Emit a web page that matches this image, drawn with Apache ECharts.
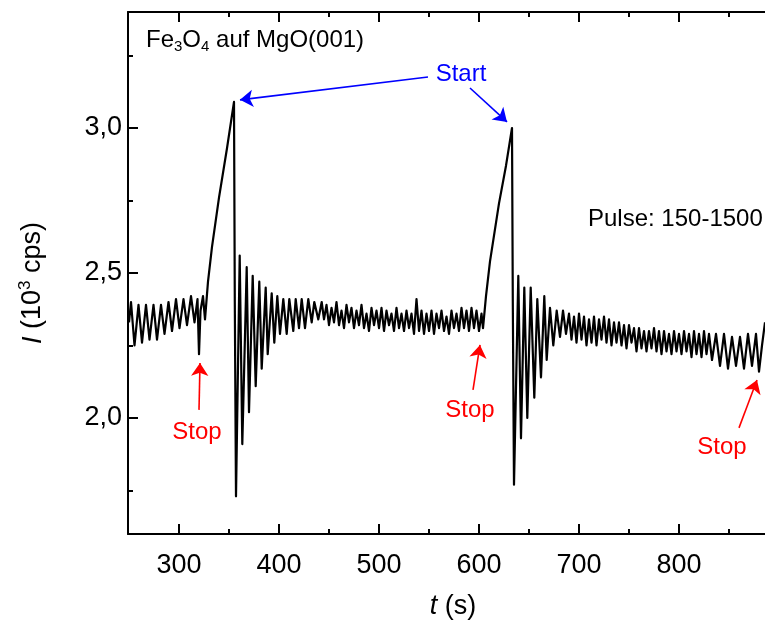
<!DOCTYPE html>
<html><head><meta charset="utf-8">
<script src="https://cdn.jsdelivr.net/npm/echarts@6/dist/echarts.min.js"></script>
<style>html,body{margin:0;padding:0;background:#fff}#c{width:765px;height:623px}</style>
</head><body><div id="c"></div>
<script>
// time (s)
const time = [
250,252,255.5,259.5,263,267,270.5,274.5,278,282,285.5,289.5,293,297,300.5,304.5,308,312,315.5,318.5,320,321.5,324,326,
329,333,340,348,355,355.8,357,
360.7,363.3,367.7,370,373.7,376.7,380.3,382.7,386.7,388.7,392.7,395.3,398.3,401,404.3,407.7,410.3,414.3,416.7,420,422.7,426,429.3,432.7,435.3,439.3,442.7,
445,447.5,450,452.5,455,457.5,460,462.5,465,467.5,470,472.5,475,477.5,480,482.5,485,487.5,490,492.5,495,497.5,500,502.5,505,507.5,510,512.5,515,517.5,520,522.5,525,527.5,530,532.5,535,537.5,540,542.5,545,547.5,550,552.5,555,557.5,560,562.5,565,567.5,570,572.5,575,577.5,580,582.5,585,587.5,590,592.5,595,597.5,600,602.5,604,
607,611,620,627,633,633.8,635,
639.3,642,645.3,648.3,651.7,655.3,658.3,662,665.3,667.7,671,674.3,677.7,681,684,687,
690,692.5,695,697.5,700,702.5,705,707.5,710,712.5,715,717.5,720,722.5,725,727.5,730,732.5,735,737.5,740,742.5,745,747.5,750,752.5,755,757.5,760,762.5,765,767.5,770,772.5,775,777.5,780,782.5,785,787.5,790,792.5,795,797.5,800,802.5,805,807.5,810,812.5,815,817.5,820,822.5,825,827.5,830,833,837,841,845,849,853,857,861,865,869,873,877,880,883,886
];
// intensity I (10^3 cps)
const intensity = [
2.33,2.40,2.25,2.39,2.26,2.39,2.27,2.39,2.27,2.39,2.29,2.40,2.30,2.41,2.31,2.41,2.32,2.42,2.33,2.41,2.22,2.37,2.42,2.34,
2.47,2.59,2.76,2.93,3.09,2.40,1.73,
2.56,1.91,2.52,2.02,2.49,2.11,2.47,2.17,2.45,2.22,2.43,2.26,2.42,2.29,2.41,2.29,2.41,2.30,2.41,2.31,2.41,2.31,2.41,2.33,2.40,2.34,2.40,
2.34,2.39,2.32,2.38,2.33,2.40,2.32,2.37,2.31,2.39,2.33,2.38,2.31,2.37,2.32,2.39,2.31,2.36,2.30,2.38,2.32,2.37,2.31,2.38,2.30,2.37,2.32,2.36,2.30,2.38,2.31,2.36,2.30,2.37,2.31,2.36,2.29,2.41,2.30,2.37,2.29,2.36,2.30,2.37,2.29,2.36,2.31,2.37,2.30,2.35,2.29,2.37,2.31,2.36,2.30,2.38,2.31,2.37,2.30,2.38,2.31,2.37,2.30,2.36,2.31,
2.42,2.54,2.74,2.87,3.00,2.40,1.77,
2.49,1.93,2.45,2.00,2.45,2.07,2.41,2.14,2.42,2.20,2.38,2.25,2.37,2.28,2.37,2.29,
2.36,2.27,2.35,2.26,2.36,2.27,2.35,2.25,2.34,2.26,2.35,2.25,2.34,2.27,2.35,2.26,2.34,2.25,2.33,2.26,2.33,2.25,2.32,2.24,2.32,2.26,2.31,2.23,2.31,2.24,2.30,2.23,2.30,2.24,2.31,2.23,2.30,2.22,2.30,2.23,2.29,2.22,2.30,2.23,2.29,2.22,2.30,2.23,2.29,2.21,2.30,2.22,2.29,2.21,2.30,2.22,2.29,2.20,2.29,2.18,2.29,2.17,2.28,2.18,2.28,2.17,2.29,2.18,2.29,2.16,2.25,2.33
];
const xTickValues = [300,400,500,600,700,800];
const xMinorValues = [350,450,550,650,750,850];
const yTickValues = [2.0,2.5,3.0];
const yMinorValues = [1.75,2.25,2.75,3.25];

// annotations in data coordinates
const arrowList = [
  {from:[549,3.176], to:[361,3.097], color:'#0000ff'},
  {from:[591,3.138], to:[628,3.021], color:'#0000ff'},
  {from:[320,2.028], to:[321,2.190], color:'#ff0000'},
  {from:[594,2.097], to:[601,2.252], color:'#ff0000'},
  {from:[860,1.966], to:[878,2.131], color:'#ff0000'}
];
const labelList = [
  {text:'Start', at:[582,3.186], color:'#0000ff', align:'center'},
  {text:'Stop', at:[318,1.952], color:'#ff0000', align:'center'},
  {text:'Stop', at:[591,2.028], color:'#ff0000', align:'center'},
  {text:'Stop', at:[843,1.900], color:'#ff0000', align:'center'},
  {text:'Pulse: 150-1500', at:[709,2.686], color:'#000', align:'left'}
];
const titleAt = [267, 3.303];

const FONT = '"Liberation Sans", Arial, Helvetica, sans-serif';
const chart = echarts.init(document.getElementById('c'), null, {renderer:'canvas'});

function tickAxis(pos, values, len, showLine) {
  return {
    type:'value', position:pos, min:249, max:899, gridIndex:0,
    axisLine:{show:showLine, onZero:false, lineStyle:{color:'#000', width:2}},
    axisTick:{show:true, inside:true, length:len, customValues:values, lineStyle:{color:'#000', width:2}},
    axisLabel:{show:false}, splitLine:{show:false}
  };
}

const option = {
  animation:false,
  backgroundColor:'#fff',
  grid:{left:128, right:-13, top:12, bottom:89, outerBoundsMode:'none', containLabel:false},
  xAxis:[
    {
      type:'value', position:'bottom', min:249, max:899,
      axisLine:{show:true, onZero:false, lineStyle:{color:'#000', width:2}},
      axisTick:{show:true, inside:true, length:10, customValues:xTickValues, lineStyle:{color:'#000', width:2}},
      axisLabel:{show:true, customValues:xTickValues, fontSize:27, color:'#000', fontFamily:FONT, margin:18},
      splitLine:{show:false},
      name:'{i|t} (s)', nameLocation:'middle', nameGap:59,
      nameTextStyle:{fontSize:27, color:'#000', fontFamily:FONT,
        rich:{i:{fontSize:27, fontStyle:'italic', color:'#000', fontFamily:FONT}}}
    },
    tickAxis('bottom', xMinorValues, 5, false),
    tickAxis('top', xTickValues, 10, true),
    tickAxis('top', xMinorValues, 5, false)
  ],
  yAxis:[
    {
      type:'value', position:'left', min:1.6, max:3.4,
      axisLine:{show:true, onZero:false, lineStyle:{color:'#000', width:2}},
      axisTick:{show:true, inside:true, length:10, customValues:yTickValues, lineStyle:{color:'#000', width:2}},
      axisLabel:{show:true, customValues:yTickValues, fontSize:27, color:'#000', fontFamily:FONT, margin:6,
        formatter:v => v.toFixed(1).replace('.', ',')},
      splitLine:{show:false},
      name:'{i|I} (10{sup|3} cps)', nameLocation:'middle', nameGap:79, nameRotate:90,
      nameTextStyle:{fontSize:27, color:'#000', fontFamily:FONT, lineHeight:32, padding:[0,20,0,0],
        rich:{
          i:{fontSize:27, fontStyle:'italic', color:'#000', fontFamily:FONT, lineHeight:32},
          sup:{fontSize:17, color:'#000', fontFamily:FONT, lineHeight:18, verticalAlign:'top'}
        }}
    },
    {
      type:'value', position:'left', min:1.6, max:3.4,
      axisLine:{show:false, onZero:false},
      axisTick:{show:true, inside:true, length:5, customValues:yMinorValues, lineStyle:{color:'#000', width:2}},
      axisLabel:{show:false}, splitLine:{show:false}
    }
  ],
  series:[
    {
      type:'line', xAxisIndex:0, yAxisIndex:0, showSymbol:false, symbol:'none',
      data: time.map((t,i)=>[t, intensity[i]]),
      lineStyle:{color:'#000', width:2.2, join:'round'}, itemStyle:{color:'#000'}, clip:true, silent:true
    },
    {
      type:'line', xAxisIndex:0, yAxisIndex:0, data:[], silent:true,
      markLine:{
        silent:true, symbol:['none','arrow'], symbolSize:13, animation:false,
        label:{show:false},
        data: arrowList.map(a => [
          {coord:a.from, lineStyle:{color:a.color, width:1.6, type:'solid'}, itemStyle:{color:a.color}},
          {coord:a.to, itemStyle:{color:a.color}}
        ])
      }
    }
  ]
};
chart.setOption(option);

const graphics = labelList.map(l => {
  const p = chart.convertToPixel({gridIndex:0}, l.at);
  return {type:'text', x:p[0], y:p[1], silent:true,
    style:{text:l.text, fill:l.color, font:'24px ' + FONT, align:l.align, verticalAlign:'middle',
      textAlign:l.align, textVerticalAlign:'middle'}};
});
const tp = chart.convertToPixel({gridIndex:0}, titleAt);
graphics.push({type:'text', x:tp[0], y:tp[1], silent:true,
  style:{text:'{n|Fe}{s|3}{n|O}{s|4}{n| auf MgO(001)}', align:'left', verticalAlign:'middle',
    textAlign:'left', textVerticalAlign:'middle',
    rich:{
      n:{fontSize:24, fontFamily:FONT, fill:'#000', lineHeight:28},
      s:{fontSize:15, fontFamily:FONT, fill:'#000', lineHeight:15, verticalAlign:'bottom'}
    }}});
chart.setOption({graphic:graphics});
</script></body></html>
